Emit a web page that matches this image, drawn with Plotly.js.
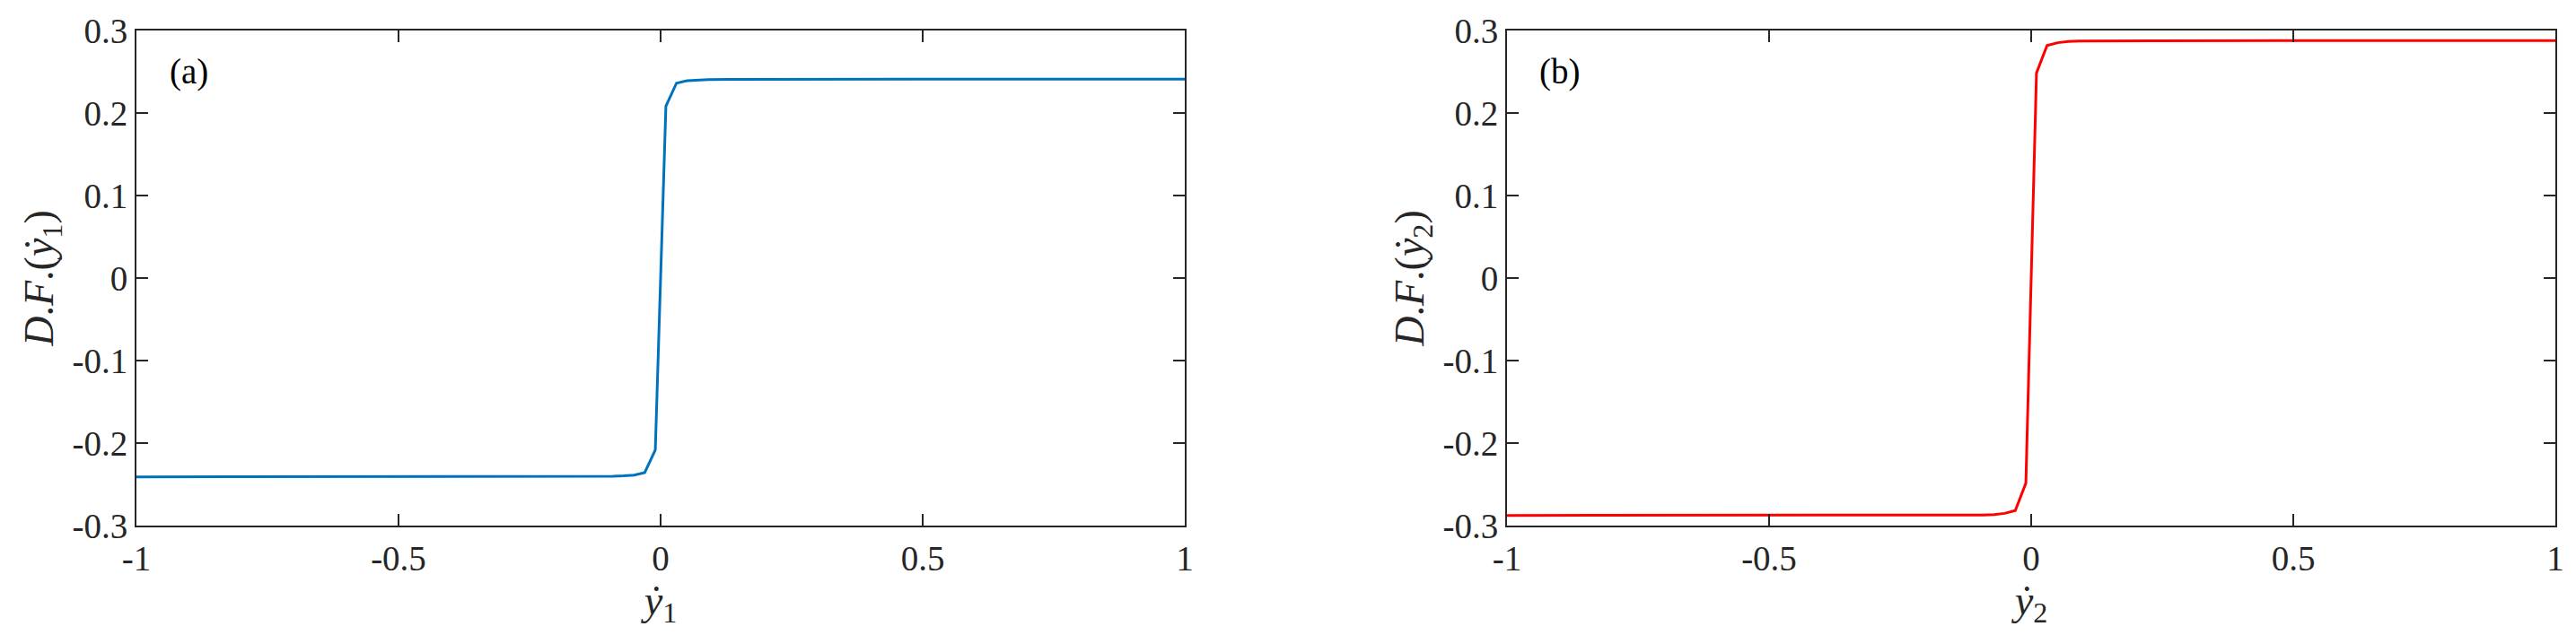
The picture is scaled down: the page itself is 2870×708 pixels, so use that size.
<!DOCTYPE html>
<html>
<head>
<meta charset="utf-8">
<script src="https://cdn.plot.ly/plotly-3.0.1.min.js"></script>
<style>
  html, body { margin: 0; padding: 0; background: #ffffff; }
  #chart { width: 2870px; height: 708px; }
</style>
</head>
<body>
<div id="chart"></div>
<script>
// ---- data ----
const xValues = [-1, -0.5152, -0.2323, -0.1313, -0.0909, -0.0707, -0.0505, -0.0303, -0.0101,
                 0.0101, 0.0303, 0.0505, 0.0707, 0.0909, 0.1313, 0.2323, 0.5152, 1];
const dfY1 = [-0.241, -0.241, -0.2408, -0.2405, -0.2402, -0.2398, -0.2388, -0.2358, -0.2084,
              0.2084, 0.2362, 0.2392, 0.2402, 0.2405, 0.2408, 0.241, 0.241, 0.241];
const dfY2 = [-0.2877, -0.2877, -0.2876, -0.2874, -0.2871, -0.2866, -0.2852, -0.2818, -0.2485,
              0.2485, 0.2818, 0.2852, 0.2866, 0.2871, 0.2874, 0.2876, 0.2877, 0.2877];

const xTickVals = [-1, -0.5, 0, 0.5, 1];
const xTickText = ['-1', '-0.5', '0', '0.5', '1'];
const yTickVals = [-0.3, -0.2, -0.1, 0, 0.1, 0.2, 0.3];
const yTickText = ['-0.3', '-0.2', '-0.1', '0', '0.1', '0.2', '0.3'];

const panelLabels = ['(a)', '(b)'];
const xTitles = ['<i>ẏ</i><sub>1</sub>', '<i>ẏ</i><sub>2</sub>'];
const yTitles = ['<i>D</i>.<i>F</i>.(<i>ẏ</i><sub>1</sub>)', '<i>D</i>.<i>F</i>.(<i>ẏ</i><sub>2</sub>)'];

// ---- styling ----
const FONT = 'Liberation Serif';
const INK = '#262626';
const FS = 39;
const TFS = 46;

const W = 2870, H = 708;
const mL = 152, mR = 23, mT = 34, mB = 122;
const plotW = W - mL - mR;
const aLeft = 152, aRight = 1320, bLeft = 1679, bRight = 2847;

function xAxis(dom, anchor, title) {
  return {
    anchor: anchor,
    domain: dom,
    range: [-1, 1],
    tickvals: xTickVals,
    ticktext: xTickText,
    ticks: 'inside',
    ticklen: 13,
    tickwidth: 2,
    tickcolor: INK,
    showline: true,
    linewidth: 2,
    linecolor: INK,
    mirror: 'allticks',
    showgrid: false,
    zeroline: false,
    ticklabelstandoff: 1,
    tickfont: { family: FONT, size: FS, color: INK },
    title: { text: title, font: { family: FONT, size: TFS, color: INK }, standoff: 0 },
    fixedrange: true
  };
}
function yAxis(anchor, title) {
  return {
    anchor: anchor,
    domain: [0, 1],
    range: [-0.3, 0.3],
    tickvals: yTickVals,
    ticktext: yTickText,
    ticks: 'inside',
    ticklen: 13,
    tickwidth: 2,
    tickcolor: INK,
    showline: true,
    linewidth: 2,
    linecolor: INK,
    mirror: 'allticks',
    showgrid: false,
    zeroline: false,
    ticklabelstandoff: 0,
    tickfont: { family: FONT, size: FS, color: INK },
    title: { text: title, font: { family: FONT, size: TFS, color: INK }, standoff: 6 },
    fixedrange: true
  };
}

const traces = [
  { x: xValues, y: dfY1, xaxis: 'x', yaxis: 'y', mode: 'lines', type: 'scatter',
    line: { color: '#0072BD', width: 3 }, hoverinfo: 'skip' },
  { x: xValues, y: dfY2, xaxis: 'x2', yaxis: 'y2', mode: 'lines', type: 'scatter',
    line: { color: '#FF0000', width: 3 }, hoverinfo: 'skip' }
];

const layout = {
  width: W, height: H,
  margin: { l: mL, r: mR, t: mT, b: mB, pad: 0 },
  paper_bgcolor: '#ffffff',
  plot_bgcolor: '#ffffff',
  showlegend: false,
  xaxis: xAxis([(aLeft - mL) / plotW, (aRight - mL) / plotW], 'y', xTitles[0]),
  yaxis: yAxis('x', yTitles[0]),
  xaxis2: xAxis([(bLeft - mL) / plotW, (bRight - mL) / plotW], 'y2', xTitles[1]),
  yaxis2: yAxis('x2', yTitles[1]),
  annotations: [
    { text: panelLabels[0], xref: 'x domain', yref: 'y domain', x: 0.03, y: 0.917,
      xanchor: 'left', yanchor: 'middle', showarrow: false,
      font: { family: FONT, size: FS, color: '#000000' } },
    { text: panelLabels[1], xref: 'x2 domain', yref: 'y2 domain', x: 0.029, y: 0.917,
      xanchor: 'left', yanchor: 'middle', showarrow: false,
      font: { family: FONT, size: FS, color: '#000000' } }
  ]
};

Plotly.newPlot('chart', traces, layout, { displayModeBar: false, staticPlot: true });
</script>
</body>
</html>
